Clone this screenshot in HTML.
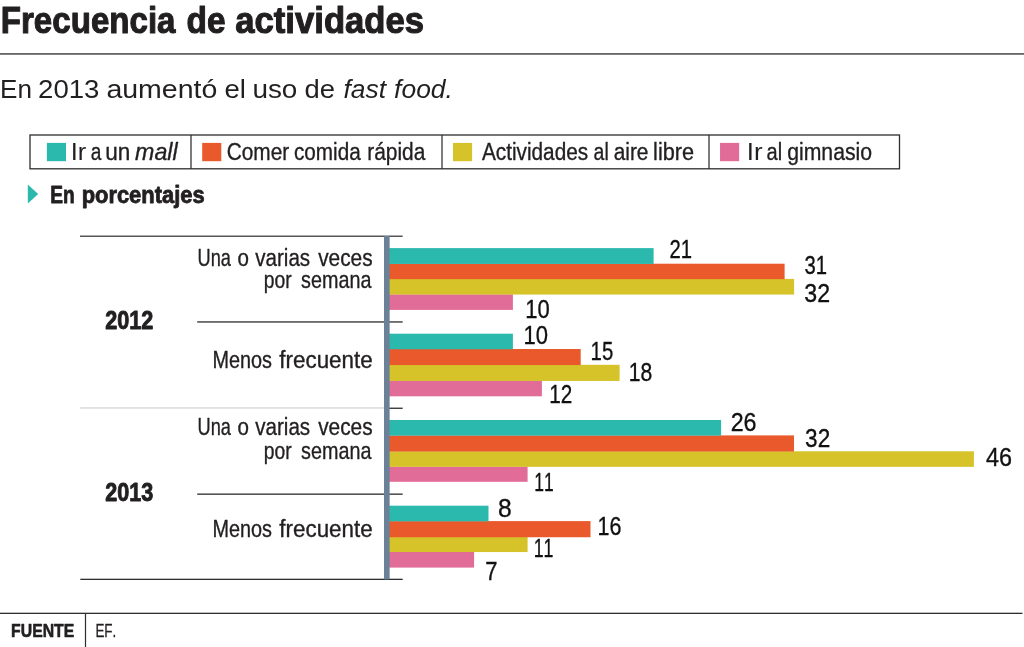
<!DOCTYPE html>
<html lang="es"><head><meta charset="utf-8"><title>Frecuencia de actividades</title>
<style>html,body{margin:0;padding:0;background:#fff}body{width:1024px;height:647px;overflow:hidden}svg{display:block}text{font-family:"Liberation Sans",sans-serif;font-kerning:none;white-space:pre}</style></head><body>
<svg width="1024" height="647" viewBox="0 0 1024 647">
<rect width="1024" height="647" fill="#fff"/>
<g id="header">
<text transform="translate(0.77 33) scale(0.8757 1)" font-size="37.80" font-weight="bold" stroke="#221f20" stroke-width="1.10" stroke-linejoin="round" fill="#221f20">Frecuencia </text>
<text transform="translate(186.61 33) scale(0.8850 1)" font-size="37.80" font-weight="bold" stroke="#221f20" stroke-width="1.10" stroke-linejoin="round" fill="#221f20">de </text>
<text transform="translate(235.24 33) scale(0.9175 1)" font-size="37.80" font-weight="bold" stroke="#221f20" stroke-width="1.10" stroke-linejoin="round" fill="#221f20">actividades</text>
<rect x="0" y="53.15" width="1024" height="1.55" fill="#4d4d4f"/>
<text transform="translate(0.06 98) scale(0.9928 1)" font-size="26.30" fill="#221f20">En </text>
<text transform="translate(38.11 98) scale(1.0477 1)" font-size="26.30" fill="#221f20">2013 </text>
<text transform="translate(106.39 98) scale(1.0846 1)" font-size="26.30" fill="#221f20">aumentó </text>
<text transform="translate(224.43 98) scale(1.0459 1)" font-size="26.30" fill="#221f20">el </text>
<text transform="translate(252.39 98) scale(1.0608 1)" font-size="26.30" fill="#221f20">uso </text>
<text transform="translate(304.45 98) scale(1.0433 1)" font-size="26.30" fill="#221f20">de </text>
<text transform="translate(343.51 98) scale(1.0043 1)" font-size="26.30" font-style="italic" fill="#221f20">fast </text>
<text transform="translate(394.11 98) scale(1.0058 1)" font-size="26.30" font-style="italic" fill="#221f20">food.</text>
</g>
<g id="legend">
<rect x="30" y="135" width="869.5" height="33.8" fill="#fff" stroke="#2e2d2f" stroke-width="1.3"/>
<rect x="190.38" y="135" width="1.24" height="33.8" fill="#2e2d2f"/>
<rect x="441.38" y="135" width="1.24" height="33.8" fill="#2e2d2f"/>
<rect x="708.38" y="135" width="1.24" height="33.8" fill="#2e2d2f"/>
<rect x="46.9" y="142.9" width="19.1" height="18.3" fill="#2bb9ae"/>
<rect x="202.2" y="142.9" width="19.1" height="18.3" fill="#ea592b"/>
<rect x="453" y="142.9" width="19.1" height="18.3" fill="#d5c329"/>
<rect x="720.05" y="142.9" width="19.1" height="18.3" fill="#e16c97"/>
<text transform="translate(70.65 160) scale(1.0324 1)" font-size="24.70" fill="#221f20">Ir </text>
<text transform="translate(90.73 160) scale(0.7905 1)" font-size="24.19" stroke="#221f20" stroke-width="0.35" stroke-linejoin="round" fill="#221f20">a </text>
<text transform="translate(105.20 160) scale(0.9330 1)" font-size="24.19" stroke="#221f20" stroke-width="0.35" stroke-linejoin="round" fill="#221f20">un </text>
<text transform="translate(135.08 160) scale(0.9611 1)" font-size="24.19" font-style="italic" stroke="#221f20" stroke-width="0.35" stroke-linejoin="round" fill="#221f20">mall</text>
<text transform="translate(226.69 160) scale(0.8611 1)" font-size="24.19" stroke="#221f20" stroke-width="0.35" stroke-linejoin="round" fill="#221f20">Comer </text>
<text transform="translate(293.97 160) scale(0.8563 1)" font-size="24.19" stroke="#221f20" stroke-width="0.35" stroke-linejoin="round" fill="#221f20">comida </text>
<text transform="translate(367.16 160) scale(0.8653 1)" font-size="24.19" stroke="#221f20" stroke-width="0.35" stroke-linejoin="round" fill="#221f20">rápida</text>
<text transform="translate(481.91 160) scale(0.8592 1)" font-size="24.19" stroke="#221f20" stroke-width="0.35" stroke-linejoin="round" fill="#221f20">Actividades </text>
<text transform="translate(593.61 160) scale(0.8045 1)" font-size="24.19" stroke="#221f20" stroke-width="0.35" stroke-linejoin="round" fill="#221f20">al </text>
<text transform="translate(613.66 160) scale(0.8630 1)" font-size="24.19" stroke="#221f20" stroke-width="0.35" stroke-linejoin="round" fill="#221f20">aire </text>
<text transform="translate(653.09 160) scale(0.8972 1)" font-size="24.19" stroke="#221f20" stroke-width="0.35" stroke-linejoin="round" fill="#221f20">libre</text>
<text transform="translate(746.71 160) scale(1.0485 1)" font-size="24.70" fill="#221f20">Ir </text>
<text transform="translate(766.49 160) scale(0.8287 1)" font-size="24.19" stroke="#221f20" stroke-width="0.35" stroke-linejoin="round" fill="#221f20">al </text>
<text transform="translate(787.16 160) scale(0.8777 1)" font-size="24.19" stroke="#221f20" stroke-width="0.35" stroke-linejoin="round" fill="#221f20">gimnasio</text>
</g>
<g id="units">
<polygon points="27.8,184.5 38.2,194 27.8,203.6" fill="#2bb9ae"/>
<text transform="translate(50.35 203) scale(0.8219 1)" font-size="23.24" font-weight="bold" stroke="#221f20" stroke-width="0.80" stroke-linejoin="round" fill="#221f20">En </text>
<text transform="translate(81.63 203) scale(0.9437 1)" font-size="23.24" font-weight="bold" stroke="#221f20" stroke-width="0.80" stroke-linejoin="round" fill="#221f20">porcentajes</text>
</g>
<g id="chart">
<rect x="80" y="235.6" width="322.7" height="1.2" fill="#2e2d2f"/>
<rect x="197.2" y="321.3" width="205.5" height="1.3" fill="#2e2d2f"/>
<rect x="80.3" y="407.3" width="304.2" height="1.3" fill="#d3d4d5"/>
<rect x="384" y="407.6" width="18.7" height="1.3" fill="#2e2d2f"/>
<rect x="197.2" y="493.5" width="205.5" height="1.3" fill="#2e2d2f"/>
<rect x="80.3" y="578.7" width="322.4" height="1.3" fill="#2e2d2f"/>
<rect x="389" y="294.3" width="123.9" height="15.6" fill="#e16c97"/>
<rect x="389" y="278.9" width="405.1" height="15.65" fill="#d5c329"/>
<rect x="389" y="263.7" width="395.6" height="15.45" fill="#ea592b"/>
<rect x="389" y="248.1" width="264.6" height="15.85" fill="#2bb9ae"/>
<rect x="389" y="380.7" width="152.9" height="15.6" fill="#e16c97"/>
<rect x="389" y="364.8" width="230.6" height="16.15" fill="#d5c329"/>
<rect x="389" y="349" width="191.7" height="16.05" fill="#ea592b"/>
<rect x="389" y="333.7" width="123.9" height="15.55" fill="#2bb9ae"/>
<rect x="389" y="466.6" width="138.6" height="15.2" fill="#e16c97"/>
<rect x="389" y="451.3" width="584.9" height="15.55" fill="#d5c329"/>
<rect x="389" y="435.4" width="405" height="16.15" fill="#ea592b"/>
<rect x="389" y="420" width="332.1" height="15.65" fill="#2bb9ae"/>
<rect x="389" y="551.8" width="85.1" height="15.8" fill="#e16c97"/>
<rect x="389" y="537" width="138.6" height="15.05" fill="#d5c329"/>
<rect x="389" y="521.1" width="201.5" height="16.15" fill="#ea592b"/>
<rect x="389" y="505.7" width="99.5" height="15.65" fill="#2bb9ae"/>
<rect x="384" y="236" width="5.65" height="343.4" fill="#6b8198"/>
<text transform="translate(669.52 258) scale(0.7765 1)" font-size="26.09" stroke="#111" stroke-width="0.35" stroke-linejoin="round" fill="#111">21</text>
<text transform="translate(804.41 274) scale(0.7766 1)" font-size="26.09" stroke="#111" stroke-width="0.35" stroke-linejoin="round" fill="#111">31</text>
<text transform="translate(804.32 302) scale(0.8886 1)" font-size="26.09" stroke="#111" stroke-width="0.35" stroke-linejoin="round" fill="#111">32</text>
<text transform="translate(525.37 318) scale(0.8420 1)" font-size="26.09" stroke="#111" stroke-width="0.35" stroke-linejoin="round" fill="#111">10</text>
<text transform="translate(523.52 344) scale(0.8439 1)" font-size="26.09" stroke="#111" stroke-width="0.35" stroke-linejoin="round" fill="#111">10</text>
<text transform="translate(590.59 360) scale(0.7798 1)" font-size="26.09" stroke="#111" stroke-width="0.35" stroke-linejoin="round" fill="#111">15</text>
<text transform="translate(628.63 381) scale(0.8114 1)" font-size="26.09" stroke="#111" stroke-width="0.35" stroke-linejoin="round" fill="#111">18</text>
<text transform="translate(549.26 403) scale(0.7940 1)" font-size="26.09" stroke="#111" stroke-width="0.35" stroke-linejoin="round" fill="#111">12</text>
<text transform="translate(730.69 431) scale(0.8918 1)" font-size="26.09" stroke="#111" stroke-width="0.35" stroke-linejoin="round" fill="#111">26</text>
<text transform="translate(805.09 447) scale(0.8646 1)" font-size="26.09" stroke="#111" stroke-width="0.35" stroke-linejoin="round" fill="#111">32</text>
<text transform="translate(986.02 466) scale(0.8977 1)" font-size="26.09" stroke="#111" stroke-width="0.35" stroke-linejoin="round" fill="#111">46</text>
<text transform="translate(534.19 491) scale(0.6702 1)" font-size="26.09" stroke="#111" stroke-width="0.35" stroke-linejoin="round" fill="#111">11</text>
<text transform="translate(497.89 517) scale(0.9450 1)" font-size="26.09" stroke="#111" stroke-width="0.35" stroke-linejoin="round" fill="#111">8</text>
<text transform="translate(597.61 535) scale(0.8233 1)" font-size="26.09" stroke="#111" stroke-width="0.35" stroke-linejoin="round" fill="#111">16</text>
<text transform="translate(533.66 557) scale(0.6817 1)" font-size="26.09" stroke="#111" stroke-width="0.35" stroke-linejoin="round" fill="#111">11</text>
<text transform="translate(485.32 580) scale(0.8435 1)" font-size="26.09" stroke="#111" stroke-width="0.35" stroke-linejoin="round" fill="#111">7</text>
<text transform="translate(197.53 266) scale(0.7726 1)" font-size="23.59" stroke="#221f20" stroke-width="0.35" stroke-linejoin="round" fill="#221f20">Una </text>
<text transform="translate(237.49 266) scale(0.8704 1)" font-size="23.59" stroke="#221f20" stroke-width="0.35" stroke-linejoin="round" fill="#221f20">o </text>
<text transform="translate(255.18 266) scale(0.8742 1)" font-size="23.59" stroke="#221f20" stroke-width="0.35" stroke-linejoin="round" fill="#221f20">varias </text>
<text transform="translate(318.18 266) scale(0.8830 1)" font-size="23.59" stroke="#221f20" stroke-width="0.35" stroke-linejoin="round" fill="#221f20">veces</text>
<text transform="translate(263.70 288) scale(0.8176 1)" font-size="23.59" stroke="#221f20" stroke-width="0.35" stroke-linejoin="round" fill="#221f20">por </text>
<text transform="translate(301.10 288) scale(0.8383 1)" font-size="23.59" stroke="#221f20" stroke-width="0.35" stroke-linejoin="round" fill="#221f20">semana</text>
<text transform="translate(212.52 368) scale(0.8410 1)" font-size="23.59" stroke="#221f20" stroke-width="0.35" stroke-linejoin="round" fill="#221f20">Menos </text>
<text transform="translate(279.35 368) scale(0.9493 1)" font-size="23.59" stroke="#221f20" stroke-width="0.35" stroke-linejoin="round" fill="#221f20">frecuente</text>
<text transform="translate(197.53 435) scale(0.7726 1)" font-size="23.59" stroke="#221f20" stroke-width="0.35" stroke-linejoin="round" fill="#221f20">Una </text>
<text transform="translate(237.49 435) scale(0.8704 1)" font-size="23.59" stroke="#221f20" stroke-width="0.35" stroke-linejoin="round" fill="#221f20">o </text>
<text transform="translate(255.18 435) scale(0.8742 1)" font-size="23.59" stroke="#221f20" stroke-width="0.35" stroke-linejoin="round" fill="#221f20">varias </text>
<text transform="translate(318.18 435) scale(0.8830 1)" font-size="23.59" stroke="#221f20" stroke-width="0.35" stroke-linejoin="round" fill="#221f20">veces</text>
<text transform="translate(263.70 459) scale(0.8176 1)" font-size="23.59" stroke="#221f20" stroke-width="0.35" stroke-linejoin="round" fill="#221f20">por </text>
<text transform="translate(301.10 459) scale(0.8383 1)" font-size="23.59" stroke="#221f20" stroke-width="0.35" stroke-linejoin="round" fill="#221f20">semana</text>
<text transform="translate(212.52 537) scale(0.8410 1)" font-size="23.59" stroke="#221f20" stroke-width="0.35" stroke-linejoin="round" fill="#221f20">Menos </text>
<text transform="translate(279.35 537) scale(0.9493 1)" font-size="23.59" stroke="#221f20" stroke-width="0.35" stroke-linejoin="round" fill="#221f20">frecuente</text>
<text transform="translate(105.34 329) scale(0.8674 1)" font-size="24.89" font-weight="bold" stroke="#221f20" stroke-width="0.90" stroke-linejoin="round" fill="#221f20">2012</text>
<text transform="translate(105.34 501) scale(0.8659 1)" font-size="24.89" font-weight="bold" stroke="#221f20" stroke-width="0.90" stroke-linejoin="round" fill="#221f20">2013</text>
</g>
<g id="footer">
<rect x="0" y="612.7" width="1022.5" height="1.3" fill="#2e2d2f"/>
<rect x="84.9" y="613" width="1.2" height="34" fill="#2e2d2f"/>
<text transform="translate(11.10 637) scale(0.8477 1)" font-size="18.63" font-weight="bold" stroke="#221f20" stroke-width="0.60" stroke-linejoin="round" fill="#221f20">FUENTE</text>
<text transform="translate(95.40 637) scale(0.7054 1)" font-size="19.06" stroke="#221f20" stroke-width="0.30" stroke-linejoin="round" fill="#221f20">EF.</text>
</g>
</svg></body></html>
